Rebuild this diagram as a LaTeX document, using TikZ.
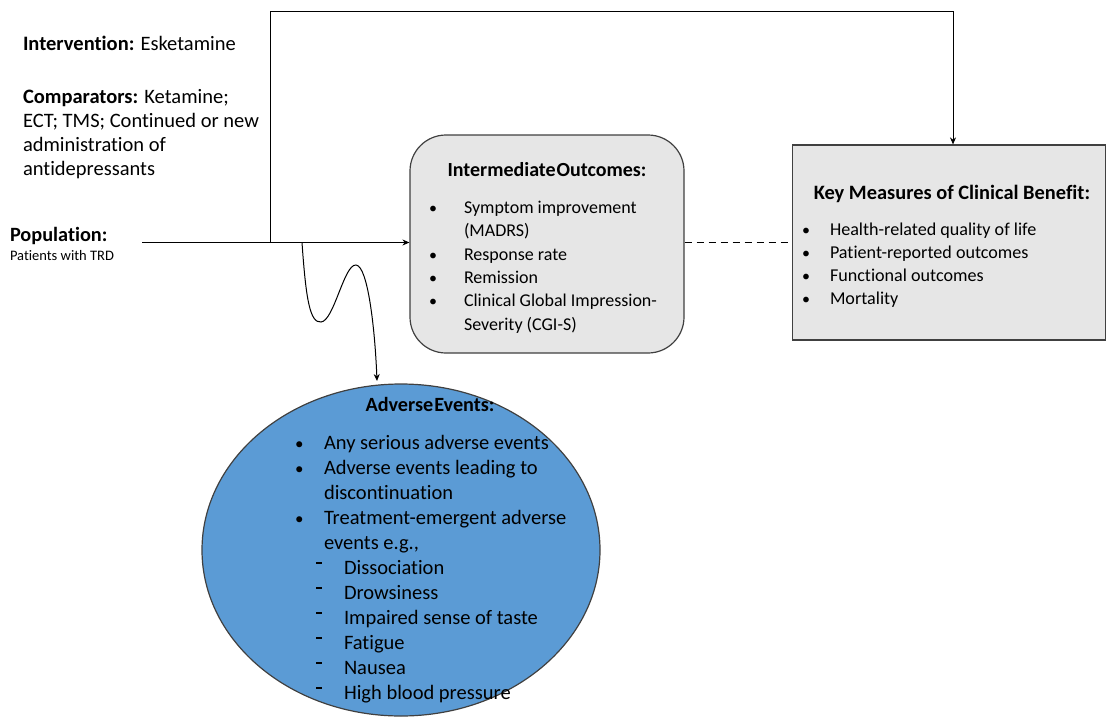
\documentclass[tikz,border=0pt]{standalone}
\usepackage{fontspec}
\setmainfont{Carlito}[Ligatures={NoCommon}]
\usetikzlibrary{arrows.meta,shapes.geometric}
\definecolor{boxgray}{HTML}{E6E6E6}
\definecolor{aeblue}{HTML}{5B9BD5}
\definecolor{edgegray}{HTML}{404040}
\newcommand{\fs}[1]{\fontsize{#1}{#1}\selectfont}
\newcommand{\sdash}{\raisebox{0.5em}{\rule{0.3em}{0.07em}}}
\tikzset{
  txt/.style={anchor=base west, inner sep=0pt, outer sep=0pt},
  ctxt/.style={anchor=base, inner sep=0pt, outer sep=0pt},
  conn/.style={line width=1pt, draw=black},
  tip/.style={-{Stealth[length=7pt,width=6pt]}},
  graybox/.style={draw=edgegray, line width=1.2pt, fill=boxgray, inner sep=0pt},
}
\begin{document}
\begin{tikzpicture}[x=1pt,y=-1pt]
\useasboundingbox (0,0) rectangle (1107,717);
% shapes
\node[graybox, rounded corners=36pt, minimum width=274pt, minimum height=218pt] (io) at (547,244) {};
\node[graybox, minimum width=313pt, minimum height=195pt] (km) at (949,242.5) {};
\node[draw=edgegray, line width=1.2pt, fill=aeblue, ellipse, minimum width=398pt, minimum height=332pt, inner sep=0pt] (ae) at (401,550) {};

% left text
\node[txt, font=\fs{20.5}] (interv) at (23,51) {\textbf{Intervention:} Esketamine};
\node[txt, font=\fs{20.5}] (comp1) at (23,103) {\textbf{Comparators:} Ketamine;};
\node[txt, font=\fs{20.5}] (comp2) at (23,127) {ECT; TMS; Continued or new};
\node[txt, font=\fs{20.5}] (comp3) at (23,151) {administration of};
\node[txt, font=\fs{20.5}] (comp4) at (23,175) {antidepressants};
\node[txt, font=\fs{20.3}\bfseries] (pop) at (10,241) {Population:};
\node[txt, font=\fs{14.5}] (pop2) at (10,260) {Patients with TRD};

% intermediate outcomes text
\node[ctxt, font=\fs{20}\bfseries] (iot) at (547,176) {Intermediate\hspace{0.05em}Outcomes:};
\foreach \y/\t [count=\i] in {213/Symptom improvement, 260/Response rate, 283/Remission, 306/Clinical Global Impression-}{
  \node[txt, font=\fs{16}] (iob\i) at (429,\y) {•};
  \node[txt, font=\fs{18}] (io\i) at (464,\y) {\t};
}
\node[txt, font=\fs{18}] (io1b) at (464,236) {(MADRS)};
\node[txt, font=\fs{18}] (io4b) at (464,330) {Severity (CGI-S)};

% key measures text
\node[ctxt, font=\fs{20.4}\bfseries] (kmt) at (952,199) {Key Measures of Clinical Benefit:};
\foreach \y/\t [count=\i] in {235/Health-related quality of life, 258/Patient-reported outcomes, 281/Functional outcomes, 304/Mortality}{
  \node[txt, font=\fs{16}] (kmb\i) at (802,\y) {•};
  \node[txt, font=\fs{18.1}] (km\i) at (830,\y) {\t};
}

% adverse events text
\node[ctxt, font=\fs{20.2}\bfseries] (aet) at (430,411) {Adverse\hspace{0.05em}Events:};
\foreach \y/\t [count=\i] in {449/Any serious adverse events, 474/Adverse events leading to, 524/Treatment-emergent adverse}{
  \node[txt, font=\fs{17}] (aeb\i) at (295,\y) {•};
  \node[txt, font=\fs{20.5}] (ae\i) at (324,\y) {\t};
}
\node[txt, font=\fs{20.5}] (ae2b) at (324,499) {discontinuation};
\node[txt, font=\fs{20.5}] (ae3b) at (324,549) {events e.g.,};
\foreach \y/\t [count=\i] in {574/Dissociation, 599/Drowsiness, 624/Impaired sense of taste, 649/Fatigue, 674/Nausea, 699/High blood pressure}{
  \node[txt, font=\fs{20.5}] (aed\i) at (316,\y) {\sdash};
  \node[txt, font=\fs{20.5}] (aes\i) at (344,\y) {\t};
}

% connectors
\coordinate (start) at (142,242.5);
\coordinate (junc) at (270,242.5);
\coordinate (topc) at (953,12);
\coordinate (wave) at (302,242.5);
\draw[conn, tip] (start) -- (io.west |- start);
\draw[conn, tip] (junc) |- (topc) -- (topc |- km.north);
\draw[conn, dashed, dash pattern=on 7pt off 5pt] (io.east |- km.west) -- (km.west);
\draw[conn, tip] (wave) .. controls (306,300) and (310,323) .. (321,322)
  .. controls (334,321) and (344,264) .. (356,265)
  .. controls (368,266) and (375,330) .. (377,381);
\end{tikzpicture}
\end{document}
